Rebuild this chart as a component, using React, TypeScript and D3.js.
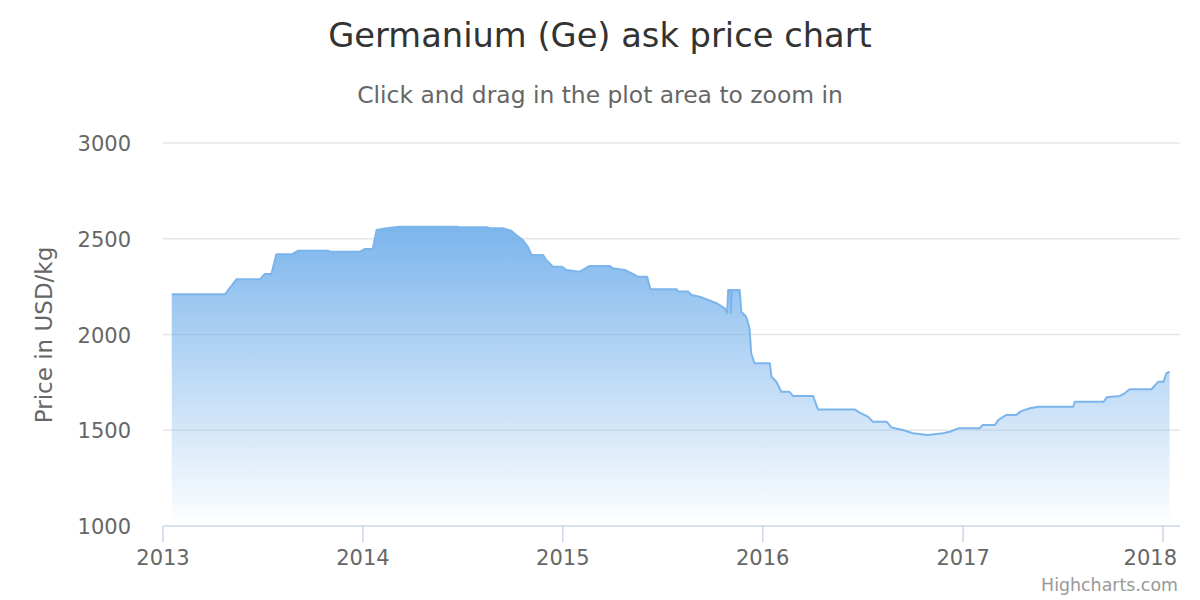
import React from "react";
import * as d3 from "d3";

const dates: string[] = [
  "2013-01-17", "2013-04-24", "2013-05-15", "2013-06-27", "2013-07-06", "2013-07-18", "2013-07-27",
  "2013-08-24", "2013-09-04", "2013-10-29", "2013-11-03", "2013-12-26", "2014-01-04", "2014-01-19",
  "2014-01-26", "2014-02-13", "2014-03-09", "2014-06-21", "2014-06-27", "2014-08-15", "2014-08-21",
  "2014-09-13", "2014-09-29", "2014-10-08", "2014-10-20", "2014-10-29", "2014-11-05", "2014-11-26",
  "2014-12-02", "2014-12-14", "2014-12-30", "2015-01-08", "2015-02-01", "2015-02-19", "2015-03-28",
  "2015-04-02", "2015-04-24", "2015-05-06", "2015-05-18", "2015-06-04", "2015-06-10", "2015-07-28",
  "2015-07-30", "2015-08-18", "2015-08-24", "2015-09-08", "2015-09-20", "2015-10-09", "2015-10-24",
  "2015-10-28", "2015-10-30", "2015-11-03", "2015-11-04", "2015-11-06", "2015-11-20", "2015-11-23",
  "2015-12-02", "2015-12-08", "2015-12-11", "2015-12-17", "2016-01-14", "2016-01-17", "2016-01-26",
  "2016-02-04", "2016-02-19", "2016-02-25", "2016-04-02", "2016-04-11", "2016-06-17", "2016-06-26",
  "2016-07-11", "2016-07-20", "2016-08-14", "2016-08-23", "2016-09-13", "2016-10-01", "2016-10-29",
  "2016-11-25", "2016-12-08", "2016-12-23", "2017-01-31", "2017-02-06", "2017-02-28", "2017-03-06",
  "2017-03-21", "2017-04-08", "2017-04-17", "2017-05-03", "2017-05-18", "2017-07-21", "2017-07-24",
  "2017-09-15", "2017-09-20", "2017-10-14", "2017-10-23", "2017-11-01", "2017-12-11", "2017-12-23",
  "2018-01-02", "2018-01-07", "2018-01-13",
];

const prices: number[] = [
  2210, 2210, 2288, 2288, 2316, 2316, 2419,
  2419, 2437, 2437, 2432, 2432, 2446, 2446,
  2546, 2555, 2563, 2563, 2560, 2560, 2555,
  2555, 2542, 2520, 2493, 2459, 2415, 2415,
  2389, 2354, 2354, 2337, 2328, 2358, 2358,
  2346, 2337, 2320, 2302, 2302, 2236, 2236,
  2224, 2224, 2206, 2197, 2184, 2163, 2137,
  2110, 2232, 2232, 2115, 2232, 2232, 2119,
  2093, 2032, 1902, 1850, 1850, 1780, 1753,
  1701, 1701, 1679, 1679, 1609, 1609, 1592,
  1571, 1545, 1545, 1515, 1501, 1484, 1475,
  1484, 1492, 1510, 1510, 1527, 1527, 1553,
  1580, 1580, 1600, 1615, 1623, 1623, 1649,
  1649, 1672, 1679, 1693, 1714, 1714, 1753,
  1753, 1797, 1806,
];

const yTicks: number[] = [1000, 1500, 2000, 2500, 3000];
const xTickYears: number[] = [2013, 2014, 2015, 2016, 2017, 2018];

const TITLE = "Germanium (Ge) ask price chart";
const SUBTITLE = "Click and drag in the plot area to zoom in";
const Y_TITLE = "Price in USD/kg";
const CREDIT = "Highcharts.com";
const COLOR = "#7cb5ec";

export default function App() {
  const W = 1200, H = 600;
  const left = 163, right = 1180, top = 143, bottom = 526;
  const parse = d3.utcParse("%Y-%m-%d");
  const data = dates.map((d, i) => ({ t: parse(d) as Date, v: prices[i] }));

  const x = d3.scaleUtc()
    .domain([new Date(Date.UTC(2013, 0, 1)), new Date(Date.UTC(2018, 1, 1))])
    .range([left, right]);
  const y = d3.scaleLinear().domain([1000, 3000]).range([bottom, top]);

  const area = d3.area<{ t: Date; v: number }>()
    .x((d) => x(d.t))
    .y0(y(1000))
    .y1((d) => y(d.v));
  const line = d3.line<{ t: Date; v: number }>()
    .x((d) => x(d.t))
    .y((d) => y(d.v));

  const font = "'DejaVu Sans', 'Lucida Grande', sans-serif";

  return (
    <svg width={W} height={H} style={{ position: "absolute", left: 0, top: 0, background: "#fff" }} fontFamily={font}>
      <defs>
        <linearGradient id="areaGrad" x1="0" y1="0" x2="0" y2="1">
          <stop offset="0" stopColor={COLOR} stopOpacity={1} />
          <stop offset="1" stopColor={COLOR} stopOpacity={0} />
        </linearGradient>
      </defs>
      <rect x={0} y={0} width={W} height={H} fill="#ffffff" />
      <text x={600} y={47} textAnchor="middle" fontSize={33.7} fill="#333333">{TITLE}</text>
      <text x={600} y={103} textAnchor="middle" fontSize={23.4} fill="#666666">{SUBTITLE}</text>

      {yTicks.filter((t) => t !== 1000).map((t) => (
        <line key={"g" + t} x1={left} x2={right} y1={y(t)} y2={y(t)} stroke="#e6e6e6" strokeWidth={1.5} />
      ))}
      {yTicks.map((t) => (
        <text key={"yl" + t} x={131} y={y(t) + 8} textAnchor="end" fontSize={21} fill="#666666">{t}</text>
      ))}
      <text transform={`translate(52,335) rotate(-90)`} textAnchor="middle" fontSize={23} fill="#666666">{Y_TITLE}</text>

      <path d={area(data) || ""} fill="url(#areaGrad)" stroke="none" />
      <path d={line(data) || ""} fill="none" stroke={COLOR} strokeWidth={2} strokeLinejoin="round" />

      <line x1={left} x2={right} y1={bottom} y2={bottom} stroke="#ccd6eb" strokeWidth={1.5} />
      {xTickYears.map((yr, i) => {
        const px = x(new Date(Date.UTC(yr, 0, 1)));
        const last = i === xTickYears.length - 1;
        return (
          <g key={"xt" + yr}>
            <line x1={px} x2={px} y1={bottom} y2={bottom + 16} stroke="#ccd6eb" strokeWidth={1.5} />
            <text x={last ? 1177 : px} y={565} textAnchor={last ? "end" : "middle"} fontSize={21} fill="#666666">{yr}</text>
          </g>
        );
      })}
      <text x={1178} y={591} textAnchor="end" fontSize={17.4} fill="#999999">{CREDIT}</text>
    </svg>
  );
}
